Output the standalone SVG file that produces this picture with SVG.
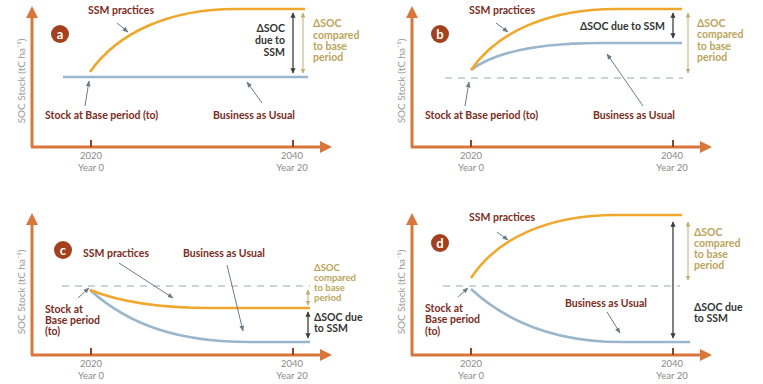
<svg xmlns="http://www.w3.org/2000/svg" width="763" height="384" viewBox="0 0 763 384">
<style>
.axis{stroke:#d8763c;stroke-width:3;fill:none}
.tick{stroke:#8a4a2a;stroke-width:2}
.ssm{stroke:#f0a72e;stroke-width:2.6;fill:none}
.bau{stroke:#9ab6cc;stroke-width:2.6;fill:none}
.dash{stroke:#bcc6cc;stroke-width:1.6;stroke-dasharray:7 6;fill:none}
.ptr{stroke:#6b7b88;stroke-width:1;fill:none;marker-end:url(#ph)}
.dark{stroke:#3d3d3d;stroke-width:1.3;marker-start:url(#dh);marker-end:url(#dh)}
.olv{stroke:#c2ad72;stroke-width:1;marker-start:url(#oh);marker-end:url(#oh)}
text{font-family:Lato,"Open Sans","Liberation Sans",sans-serif}
.lbl{font-size:10.5px;font-weight:bold;fill:#7c2c1c}
.olt{font-size:10.5px;font-weight:bold;fill:#bca45c}
.dkt{font-size:10.5px;font-weight:bold;fill:#333}
.sm{font-size:9.5px}
.yr{font-size:9.5px;fill:#8a8a8a;text-anchor:middle}
.yl{font-size:10px;fill:#999;text-anchor:middle}
.cir{fill:#a3401d}
.ct{font-size:13px;font-weight:bold;fill:#fff;text-anchor:middle}
</style>
<defs>
<marker id="ah" viewBox="0 0 10 10" refX="5" refY="5" markerWidth="4" markerHeight="4" orient="auto" markerUnits="strokeWidth"><path d="M0,0 L10,5 L0,10 z" fill="#d8763c"/></marker>
<marker id="ph" viewBox="0 0 10 10" refX="9" refY="5" markerWidth="6" markerHeight="6" orient="auto" markerUnits="strokeWidth"><path d="M0,1 L10,5 L0,9 z" fill="#6b7b88"/></marker>
<marker id="dh" viewBox="0 0 10 10" refX="9" refY="5" markerWidth="4" markerHeight="4" orient="auto-start-reverse" markerUnits="strokeWidth"><path d="M0,0 L10,5 L0,10 z" fill="#3d3d3d"/></marker>
<marker id="oh" viewBox="0 0 10 10" refX="9" refY="5" markerWidth="5" markerHeight="5" orient="auto-start-reverse" markerUnits="strokeWidth"><path d="M0,0 L10,5 L0,10 z" fill="#c2ad72"/></marker>
</defs>

<g id="panel-a">
  <g id="a-axes">
    <line class="axis" x1="32" y1="147" x2="32" y2="12" marker-end="url(#ah)"/>
    <line class="axis" x1="31" y1="147" x2="326" y2="147" marker-end="url(#ah)"/>
    <line class="tick" x1="91" y1="140" x2="91" y2="147"/>
    <line class="tick" x1="293" y1="140" x2="293" y2="147"/>
    <text class="yr" x="91" y="159">2020</text>
    <text class="yr" x="91" y="171">Year 0</text>
    <text class="yr" x="292" y="159">2040</text>
    <text class="yr" x="292" y="171">Year 20</text>
    <text class="yl" transform="translate(25,81) rotate(-90)">SOC Stock (tC ha⁻¹)</text>
  </g>
  <g id="a-badge"><circle class="cir" cx="60" cy="34" r="9"/><text class="ct" x="60" y="38.5">a</text></g>
  <g id="a-curves">
    <line class="bau" x1="63" y1="77" x2="308" y2="77"/>
    <path class="ssm" d="M90,72 C118,32 170,9 236,9 L305,9"/>
  </g>
  <g id="a-labels">
    <text class="lbl" x="121" y="14" text-anchor="middle">SSM practices</text>
    <line class="ptr" x1="117" y1="23" x2="128" y2="32"/>
    <text class="lbl" x="45" y="119">Stock at Base period (to)</text>
    <line class="ptr" x1="85" y1="106" x2="89" y2="81"/>
    <text class="lbl" x="213" y="119">Business as Usual</text>
    <line class="ptr" x1="262" y1="103" x2="247" y2="82"/>
    <line class="dark" x1="293" y1="13" x2="293" y2="73"/>
    <line class="olv" x1="303" y1="13" x2="303" y2="73"/>
    <text class="dkt" text-anchor="end"><tspan x="285" y="32">ΔSOC</tspan><tspan x="285" y="44">due to</tspan><tspan x="285" y="56">SSM</tspan></text>
    <text class="olt"><tspan x="313" y="27">ΔSOC</tspan><tspan x="313" y="39">compared</tspan><tspan x="313" y="50">to base</tspan><tspan x="313" y="61">period</tspan></text>
  </g>
</g>

<g id="panel-b">
  <g id="b-axes">
    <line class="axis" x1="412" y1="147" x2="412" y2="12" marker-end="url(#ah)"/>
    <line class="axis" x1="411" y1="147" x2="706" y2="147" marker-end="url(#ah)"/>
    <line class="tick" x1="471" y1="140" x2="471" y2="147"/>
    <line class="tick" x1="673" y1="140" x2="673" y2="147"/>
    <text class="yr" x="471" y="159">2020</text>
    <text class="yr" x="471" y="171">Year 0</text>
    <text class="yr" x="672" y="159">2040</text>
    <text class="yr" x="672" y="171">Year 20</text>
    <text class="yl" transform="translate(405,81) rotate(-90)">SOC Stock (tC ha⁻¹)</text>
  </g>
  <g id="b-badge"><circle class="cir" cx="440" cy="34" r="9"/><text class="ct" x="440" y="38.5">b</text></g>
  <g id="b-curves">
    <line class="dash" x1="445" y1="78" x2="683" y2="78"/>
    <path class="bau" d="M471,70 C495,52 540,43 600,43 L682,43"/>
    <path class="ssm" d="M471,70 C498,31 550,9 616,9 L682,9"/>
  </g>
  <g id="b-labels">
    <text class="lbl" x="502" y="14" text-anchor="middle">SSM practices</text>
    <line class="ptr" x1="496" y1="23" x2="508" y2="32"/>
    <text class="lbl" x="425" y="119">Stock at Base period (to)</text>
    <line class="ptr" x1="465" y1="106" x2="469" y2="82"/>
    <text class="lbl" x="593" y="119">Business as Usual</text>
    <line class="ptr" x1="643" y1="106" x2="607" y2="54"/>
    <line class="dark" x1="673" y1="13" x2="673" y2="38"/>
    <line class="olv" x1="688" y1="13" x2="688" y2="73"/>
    <text class="dkt" x="665" y="30" text-anchor="end">ΔSOC due to SSM</text>
    <text class="olt"><tspan x="697" y="27">ΔSOC</tspan><tspan x="697" y="38">compared</tspan><tspan x="697" y="50">to base</tspan><tspan x="697" y="61">period</tspan></text>
  </g>
</g>

<g id="panel-c">
  <g id="c-axes">
    <line class="axis" x1="32" y1="355" x2="32" y2="219" marker-end="url(#ah)"/>
    <line class="axis" x1="31" y1="355" x2="326" y2="355" marker-end="url(#ah)"/>
    <line class="tick" x1="91" y1="348" x2="91" y2="355"/>
    <line class="tick" x1="293" y1="348" x2="293" y2="355"/>
    <text class="yr" x="91" y="367">2020</text>
    <text class="yr" x="91" y="379">Year 0</text>
    <text class="yr" x="292" y="367">2040</text>
    <text class="yr" x="292" y="379">Year 20</text>
    <text class="yl" transform="translate(25,292) rotate(-90)">SOC Stock (tC ha⁻¹)</text>
  </g>
  <g id="c-badge"><circle class="cir" cx="63" cy="250" r="9"/><text class="ct" x="63" y="254.5">c</text></g>
  <g id="c-curves">
    <line class="dash" x1="62" y1="286" x2="310" y2="286"/>
    <path class="bau" d="M90,290 C130,326 180,342 250,342 L310,342"/>
    <path class="ssm" d="M90,290 C120,302 160,308 210,308 L310,308"/>
  </g>
  <g id="c-labels">
    <text class="lbl" x="116" y="257" text-anchor="middle">SSM practices</text>
    <line class="ptr" x1="119" y1="263" x2="173" y2="298"/>
    <text class="lbl" x="183" y="257">Business as Usual</text>
    <line class="ptr" x1="227" y1="265" x2="243" y2="331"/>
    <text class="lbl"><tspan x="45" y="313">Stock at</tspan><tspan x="45" y="324">Base period</tspan><tspan x="45" y="335">(to)</tspan></text>
    <line class="ptr" x1="78" y1="298" x2="89" y2="288"/>
    <line class="olv" x1="308" y1="290" x2="308" y2="305"/>
    <line class="dark" x1="308" y1="312" x2="308" y2="338"/>
    <text class="olt sm"><tspan x="314" y="271">ΔSOC</tspan><tspan x="314" y="281">compared</tspan><tspan x="314" y="291">to base</tspan><tspan x="314" y="301">period</tspan></text>
    <text class="dkt"><tspan x="314" y="321">ΔSOC due</tspan><tspan x="314" y="332">to SSM</tspan></text>
  </g>
</g>

<g id="panel-d">
  <g id="d-axes">
    <line class="axis" x1="412" y1="355" x2="412" y2="219" marker-end="url(#ah)"/>
    <line class="axis" x1="411" y1="355" x2="706" y2="355" marker-end="url(#ah)"/>
    <line class="tick" x1="471" y1="348" x2="471" y2="355"/>
    <line class="tick" x1="673" y1="348" x2="673" y2="355"/>
    <text class="yr" x="471" y="367">2020</text>
    <text class="yr" x="471" y="379">Year 0</text>
    <text class="yr" x="672" y="367">2040</text>
    <text class="yr" x="672" y="379">Year 20</text>
    <text class="yl" transform="translate(405,292) rotate(-90)">SOC Stock (tC ha⁻¹)</text>
  </g>
  <g id="d-badge"><circle class="cir" cx="440" cy="243" r="9"/><text class="ct" x="440" y="247.5">d</text></g>
  <g id="d-curves">
    <line class="dash" x1="443" y1="286" x2="680" y2="286"/>
    <path class="bau" d="M471,289 C510,325 560,342 622,342 L690,342"/>
    <path class="ssm" d="M471,278 C498,237 550,215 616,215 L682,215"/>
  </g>
  <g id="d-labels">
    <text class="lbl" x="502" y="221" text-anchor="middle">SSM practices</text>
    <line class="ptr" x1="497" y1="232" x2="508" y2="240"/>
    <text class="lbl" x="565" y="307">Business as Usual</text>
    <line class="ptr" x1="607" y1="312" x2="620" y2="333"/>
    <text class="lbl"><tspan x="425" y="312">Stock at</tspan><tspan x="425" y="323">Base period</tspan><tspan x="425" y="335">(to)</tspan></text>
    <line class="ptr" x1="458" y1="297" x2="468" y2="288"/>
    <line class="dark" x1="673" y1="222" x2="673" y2="338"/>
    <line class="olv" x1="688" y1="222" x2="688" y2="280"/>
    <text class="olt"><tspan x="694" y="236">ΔSOC</tspan><tspan x="694" y="247">compared</tspan><tspan x="694" y="258">to base</tspan><tspan x="694" y="269">period</tspan></text>
    <text class="dkt"><tspan x="694" y="311">ΔSOC due</tspan><tspan x="694" y="322">to SSM</tspan></text>
  </g>
</g>
</svg>
